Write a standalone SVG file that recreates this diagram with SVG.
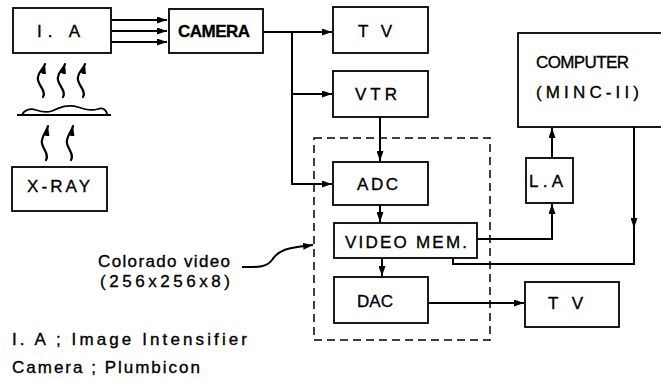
<svg xmlns="http://www.w3.org/2000/svg" width="661" height="380" viewBox="0 0 661 380">
<defs>
<marker id="ah" viewBox="0 0 10 7" refX="10" refY="3.5" markerWidth="10" markerHeight="7" markerUnits="userSpaceOnUse" orient="auto"><path d="M0,0 L10,3.5 L0,7 z" fill="#000"/></marker>
<style>
.box{fill:#fff;stroke:#000;stroke-width:1.8}
.t{font-family:"Liberation Sans",Arial,sans-serif;font-size:17px;fill:#000;stroke:#000;stroke-width:0.35}
.c{fill:none;stroke:#000;stroke-width:2}
.w{fill:none;stroke:#000;stroke-width:2.2;stroke-linecap:round}
</style>
</defs>
<rect width="661" height="380" fill="#fff"/>

<g id="connectors">
<path class="c" d="M112 20 H167" marker-end="url(#ah)"/>
<path class="c" d="M112 31 H167" marker-end="url(#ah)"/>
<path class="c" d="M111 42 H167" marker-end="url(#ah)"/>
<path class="c" d="M263 32 H332" marker-end="url(#ah)"/>
<path class="c" d="M292 32 V184 H332" marker-end="url(#ah)"/>
<path class="c" d="M292 94 H332" marker-end="url(#ah)"/>
<path class="c" d="M380 117 V161" marker-end="url(#ah)"/>
<path class="c" d="M380 205 V222" marker-end="url(#ah)"/>
<path class="c" d="M382 258 V276" marker-end="url(#ah)"/>
<path class="c" d="M477 239 H552 V204" marker-end="url(#ah)"/>
<path class="c" d="M552 158 V128" marker-end="url(#ah)"/>
<path class="c" d="M634 127 V228" marker-end="url(#ah)"/>
<path class="c" d="M634 226 V264 H453 V258"/>
<path class="c" d="M428 303 H524" marker-end="url(#ah)"/>
<path class="c" d="M242 267 C256 267 266 268 272 260 C280 248 290 248 313 245" stroke-width="1.6" marker-end="url(#ah)"/>
<!-- dashed Colorado video boundary -->
<rect x="314" y="138" width="176" height="202" fill="none" stroke="#000" stroke-width="1.5" stroke-dasharray="8,5"/>
</g>

<g id="source-graphics">
<path class="w" d="M43 97 C47 90 36 84 38 77 C39 71 44 68 45 64" marker-end="url(#ah)"/>
<path class="w" d="M63 97 C67 90 56 84 58 77 C59 71 64 68 65 64" marker-end="url(#ah)"/>
<path class="w" d="M83 97 C87 90 76 84 78 77 C79 71 84 68 85 64" marker-end="url(#ah)"/>
<path d="M17 115 H111" stroke="#000" stroke-width="1.8"/>
<path d="M22 115 C24 110 30 108 36 110 C42 112 46 113 52 111 C60 107 68 104 78 107 C86 110 92 111 98 109 C104 107 107 111 107 115" fill="none" stroke="#000" stroke-width="1.8"/>
<path class="w" d="M46 160 C50 153 40 147 42 140 C43 134 47 131 48 126" marker-end="url(#ah)"/>
<path class="w" d="M71 160 C75 153 65 147 67 140 C68 134 72 131 73 126" marker-end="url(#ah)"/>
</g>

<g id="node-ia"><rect class="box" x="13" y="8" width="98" height="45"/><text class="t" x="37" y="37" textLength="43" lengthAdjust="spacing">I. A</text></g>
<g id="node-camera"><rect class="box" x="169" y="9" width="94" height="44"/><text class="t" x="178" y="37" textLength="72" lengthAdjust="spacing" font-weight="bold" font-size="15">CAMERA</text></g>
<g id="node-tv1"><rect class="box" x="333" y="7" width="95" height="46"/><text class="t" x="358" y="37" textLength="34" lengthAdjust="spacing">T V</text></g>
<g id="node-vtr"><rect class="box" x="333" y="71" width="95" height="46"/><text class="t" x="355" y="100" textLength="42" lengthAdjust="spacing">VTR</text></g>
<g id="node-adc"><rect class="box" x="333" y="162" width="95" height="43"/><text class="t" x="357" y="190" textLength="41" lengthAdjust="spacing">ADC</text></g>
<g id="node-videomem"><rect class="box" x="334" y="223" width="143" height="35"/><text class="t" x="345" y="248" textLength="122" lengthAdjust="spacing">VIDEO MEM.</text></g>
<g id="node-dac"><rect class="box" x="334" y="277" width="94" height="46"/><text class="t" x="357" y="307" textLength="36" lengthAdjust="spacing">DAC</text></g>
<g id="node-tv2"><rect class="box" x="525" y="282" width="94" height="45"/><text class="t" x="548" y="309" textLength="35" lengthAdjust="spacing">T V</text></g>
<g id="node-la"><rect class="box" x="526" y="158" width="47" height="45"/><text class="t" x="529" y="187" textLength="34" lengthAdjust="spacing">L.A</text></g>
<g id="node-computer"><rect class="box" x="518" y="33" width="150" height="94"/><text class="t" x="536" y="68" textLength="93" lengthAdjust="spacing" font-size="14">COMPUTER</text><text class="t" x="536" y="98" textLength="103" lengthAdjust="spacing" font-size="16">(MINC-II)</text></g>
<g id="node-xray"><rect class="box" x="12" y="167" width="95" height="44"/><text class="t" x="27" y="192" textLength="63" lengthAdjust="spacing">X-RAY</text></g>

<g id="labels">
<text class="t" x="98" y="267" textLength="132" lengthAdjust="spacing">Colorado video</text>
<text class="t" x="100" y="287" textLength="130" lengthAdjust="spacing">(256x256x8)</text>
<text class="t" x="12" y="345" textLength="235" lengthAdjust="spacing">I. A ; Image Intensifier</text>
<text class="t" x="12" y="373" textLength="188" lengthAdjust="spacing">Camera ; Plumbicon</text>
</g>
</svg>
